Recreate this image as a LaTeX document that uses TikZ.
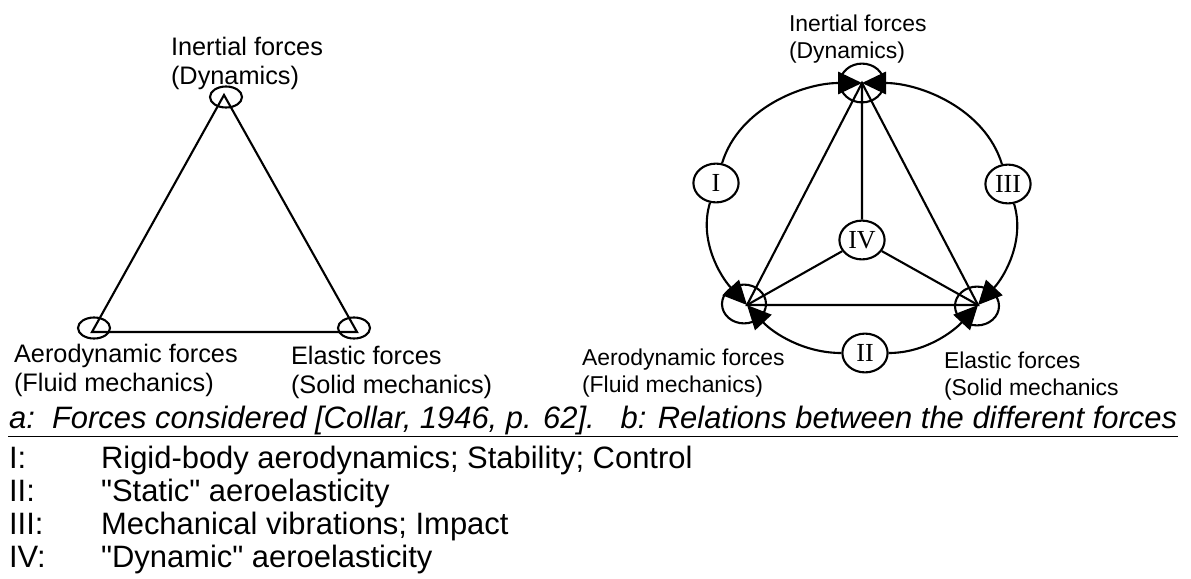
\documentclass[tikz,border=0pt]{standalone}
\usepackage{fontspec}
\setmainfont{Liberation Sans}[Ligatures=TeXOff]
\newfontfamily\numfont{Liberation Serif}
\usetikzlibrary{arrows.meta, shapes.geometric}

\tikzset{
  lbl/.style={anchor=west, inner sep=0pt, align=left, font=\fontsize{18}{20.6}\selectfont},
  slbl/.style={anchor=west, inner sep=0pt, align=left, font=\fontsize{16.3}{19.8}\selectfont},
  ring/.style={draw, ellipse, inner sep=0pt, minimum width=0.8cm, minimum height=0.525cm},
  hub/.style={draw, ellipse, inner sep=0pt, minimum width=1.1cm, minimum height=0.97cm},
  num/.style={draw, ellipse, fill=white, inner sep=0pt, minimum width=1.13cm, minimum height=0.97cm,
              font=\numfont\fontsize{18.5}{20}\selectfont},
  flow/.style={looseness=0.92, -{Triangle[length=0.6cm,width=0.56cm]}},
  captext/.style={anchor=base west, inner sep=0pt, font=\fontsize{22}{24}\selectfont\itshape},
  item/.style={anchor=base west, inner sep=0pt, font=\fontsize{22}{24}\selectfont}
}

\begin{document}
\begin{tikzpicture}[x=0.025cm, y=-0.025cm, line width=1.5pt]
    \useasboundingbox (0,0) rectangle (1191,579);

    % a: the three forces
    \coordinate (aT)  at (224,95);
    \coordinate (aBL) at (92,332);
    \coordinate (aBR) at (357,332);
    \node[ring] (raT)  at (226,97)  {};
    \node[ring] (raBL) at (94,328)  {};
    \node[ring] (raBR) at (354,328) {};
    \draw (aT) -- (aBL) -- (aBR) -- cycle;

    \node[lbl] (aInert) at (170,63)  {Inertial forces\\(Dynamics)};
    \node[lbl] (aAero)  at (13,370)  {Aerodynamic forces\\(Fluid mechanics)};
    \node[lbl] (aElast) at (290,372) {Elastic forces\\(Solid mechanics)};

    % b: relations
    \coordinate (T)  at (862,83);
    \coordinate (BL) at (747,305);
    \coordinate (BR) at (978,305);
    \node[hub] (hT)  at (T)  {};
    \node[hub] (hBL) at (744,304) {};
    \node[hub] (hBR) at (977,306) {};

    \node[num] (I)   at (716,183) {I};
    \node[num] (II)  at (865,353) {II};
    \node[num] (III) at (1008,184) {III};
    \node[num] (IV)  at (862,240) {IV};

    \draw (T) -- (BL) -- (BR) -- cycle;
    \draw (T) -- (IV) (IV) -- (BL) (IV) -- (BR);

    \path[flow]
        (I)   edge [out=73, in=180]  (T)
              edge [out=253, in=133] (BL)
        (II)  edge [out=180, in=313] (BL)
              edge [out=0, in=227]   (BR)
        (III) edge [out=287, in=47]  (BR)
              edge [out=107, in=0]   (T);

    \node[slbl] (bInert) at (788,39)  {Inertial forces\\(Dynamics)};
    \node[slbl] (bAero)  at (581,373) {Aerodynamic forces\\(Fluid mechanics)};
    \node[slbl] (bElast) at (943,376) {Elastic forces\\(Solid mechanics};

    % caption and key
    \node[captext] (capt) at (8,428) {a:\ \ Forces considered [Collar, 1946, p. 62].\ \ \ b: Relations between the different forces};
    \draw[line width=1.1pt] ([yshift=-0.21cm]capt.base west) -- ([yshift=-0.21cm]capt.base east);

    \foreach \k/\txt [count=\i] in {I/{Rigid-body aerodynamics; Stability; Control},
                                    II/{"Static" aeroelasticity},
                                    III/{Mechanical vibrations; Impact},
                                    IV/{"Dynamic" aeroelasticity}}{
        \node[item] (key\i) at (8,{434.7+\i*33.3}) {\k:};
        \node[item] (txt\i) at (100,{434.7+\i*33.3}) {\txt};
    }
\end{tikzpicture}
\end{document}
